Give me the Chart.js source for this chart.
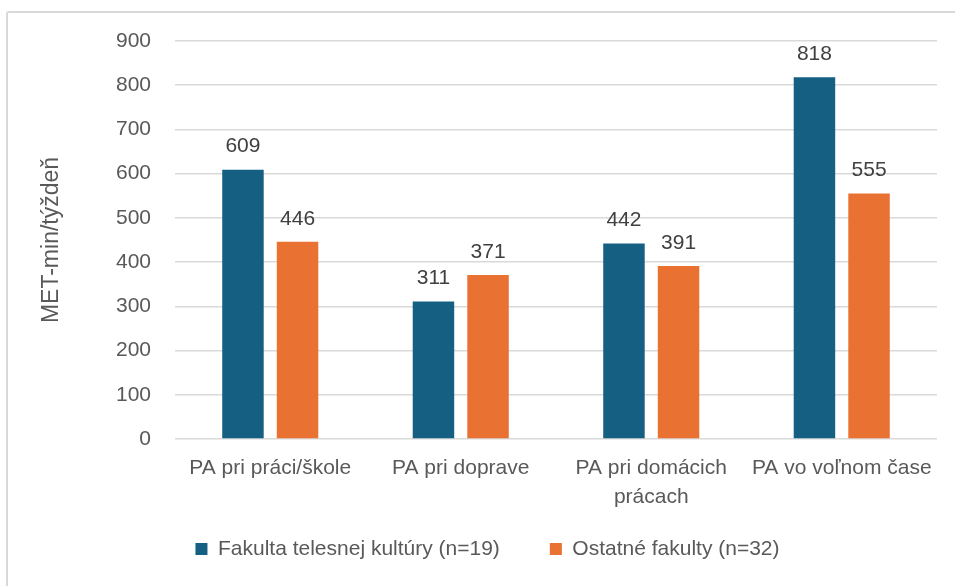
<!DOCTYPE html>
<html>
<head>
<meta charset="utf-8">
<script src="https://cdn.jsdelivr.net/npm/chart.js@4"></script>
<style>
  html, body { margin: 0; padding: 0; background: #fff; }
  #frame { position: absolute; left: 6px; top: 11px; width: 980px; height: 620px; border: 2px solid #d9d9d9; border-radius: 3px; box-sizing: border-box; }
  #wrap { position: absolute; left: 0; top: 0; width: 955px; height: 586px; }
</style>
</head>
<body>
<div id="frame"></div>
<div id="wrap"><canvas id="barChart"></canvas></div>
<script>
const categories = [['PA pri práci/škole'], ['PA pri doprave'], ['PA pri domácich', 'prácach'], ['PA vo voľnom čase']];
const seriesNames = ['Fakulta telesnej kultúry (n=19)', 'Ostatné fakulty (n=32)'];
const ftkValues = [609, 311, 442, 818];
const otherValues = [446, 371, 391, 555];
const yTicks = [0, 100, 200, 300, 400, 500, 600, 700, 800, 900];

const textColor = '#595959';
const fontFamily = "'Liberation Sans', Arial, sans-serif";

// value labels above each bar
const barLabels = {
  id: 'barLabels',
  afterDatasetsDraw(chart) {
    const ctx = chart.ctx;
    ctx.save();
    ctx.font = '21px ' + fontFamily;
    ctx.fillStyle = '#404040';
    ctx.textAlign = 'center';
    ctx.textBaseline = 'middle';
    chart.data.datasets.forEach((ds, i) => {
      chart.getDatasetMeta(i).data.forEach((bar, j) => {
        ctx.fillText(ds.data[j], bar.x, bar.y - 23);
      });
    });
    ctx.restore();
  }
};

// legend items are spaced wide apart, keep the box short and pull it up a bit
const legendFix = {
  id: 'legendFix',
  afterInit(chart) {
    const lg = chart.legend;
    const fit = lg.fit;
    lg.fit = function () { fit.call(this); this.height = 75; };
  },
  afterLayout(chart) {
    chart.legend.top -= 22.5;
    chart.legend.bottom -= 22.5;
  }
};

new Chart(document.getElementById('barChart').getContext('2d'), {
  type: 'bar',
  data: {
    labels: categories,
    datasets: [
      { label: seriesNames[0], data: ftkValues, backgroundColor: '#156082', barPercentage: 0.76, categoryPercentage: 0.573 },
      { label: seriesNames[1], data: otherValues, backgroundColor: '#E97132', barPercentage: 0.76, categoryPercentage: 0.573 }
    ]
  },
  options: {
    responsive: true,
    maintainAspectRatio: false,
    animation: false,
    layout: { padding: { left: 38, right: 18, top: 41, bottom: 0 } },
    plugins: {
      legend: {
        position: 'bottom',
        labels: { color: textColor, font: { family: fontFamily, size: 21 }, boxWidth: 12, boxHeight: 12, padding: 50 }
      },
      tooltip: { enabled: false }
    },
    scales: {
      y: {
        min: 0, max: 900,
        afterFit: s => { s.width = 137; },
        afterBuildTicks: s => { s.ticks = yTicks.map(v => ({ value: v })); },
        border: { display: false },
        grid: { color: '#d9d9d9', lineWidth: 1.5, drawTicks: false },
        ticks: { color: textColor, font: { family: fontFamily, size: 21 }, padding: 24 },
        title: { display: true, text: 'MET-min/týždeň', color: textColor, font: { family: fontFamily, size: 23 }, padding: 0 }
      },
      x: {
        afterFit: s => { s.height = 72; },
        border: { display: false },
        grid: { display: false, drawTicks: false },
        ticks: { color: textColor, font: { family: fontFamily, size: 21, lineHeight: 1.38 }, padding: 15, maxRotation: 0, autoSkip: false }
      }
    }
  },
  plugins: [barLabels, legendFix]
});
</script>
</body>
</html>
